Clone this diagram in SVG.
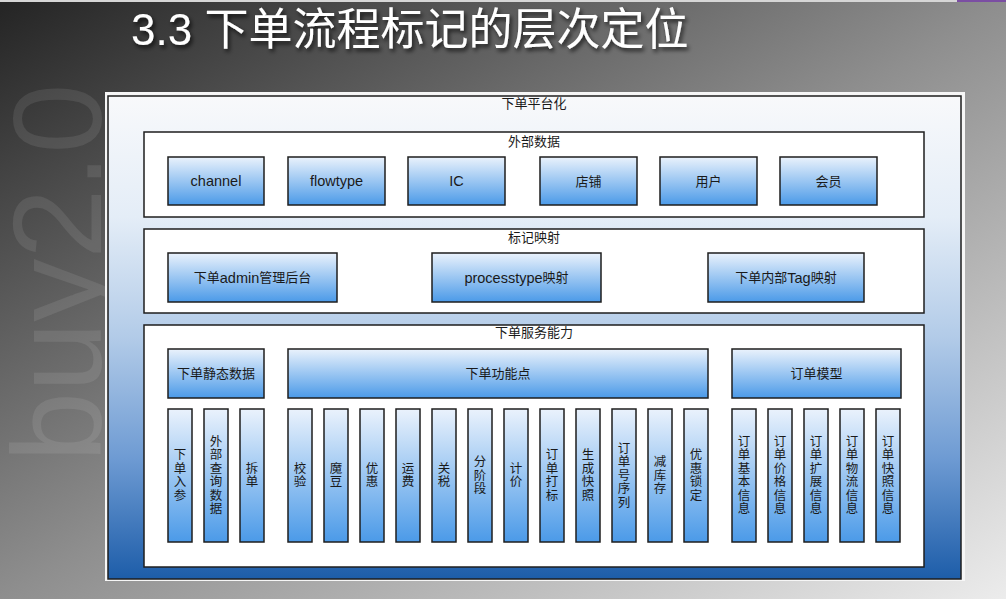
<svg xmlns="http://www.w3.org/2000/svg" width="1006" height="599" viewBox="0 0 1006 599">
<defs>
<linearGradient id="bg" x1="0" y1="0" x2="1" y2="1">
<stop offset="0" stop-color="#242424"/>
<stop offset="0.5" stop-color="#8e8e8e"/>
<stop offset="1" stop-color="#ececec"/>
</linearGradient>
<linearGradient id="outer" x1="0" y1="0" x2="0" y2="1">
<stop offset="0" stop-color="#f8f9fb"/>
<stop offset="0.25" stop-color="#e4edf7"/>
<stop offset="0.5" stop-color="#b2cbe8"/>
<stop offset="0.75" stop-color="#6e9bd3"/>
<stop offset="1" stop-color="#1d5da9"/>
</linearGradient>
<linearGradient id="box" x1="0" y1="0" x2="0" y2="1">
<stop offset="0" stop-color="#eaf2fc"/>
<stop offset="1" stop-color="#4b9ae8"/>
</linearGradient>
<filter id="tsh" x="-5%" y="-20%" width="110%" height="150%">
<feDropShadow dx="2" dy="3" stdDeviation="2" flood-color="#000" flood-opacity="0.7"/>
</filter>
</defs>
<style>
.cont{fill:#fff;stroke:#1e1e1e;stroke-width:1.5}
.bx{fill:url(#box);stroke:#1e1e1e;stroke-width:1.5}
.t{font-family:"Liberation Sans","Noto Sans CJK SC",sans-serif;font-size:13px;fill:#1a1a1a;text-anchor:middle;dominant-baseline:central}
.v{font-size:12.5px}
.lat{font-size:14.5px}
</style>
<rect x="0" y="0" width="1006" height="599" fill="url(#bg)"/>
<rect x="0" y="0" width="957" height="2" fill="#d6d6d6"/>
<rect x="957" y="0" width="49" height="2" fill="#7b4ea3"/>
<text transform="translate(101,462) rotate(-90)" font-family="Liberation Sans, sans-serif" font-size="126" fill="#ffffff" fill-opacity="0.09">buy2.0</text>
<text x="131" y="45" font-family="Liberation Sans, Noto Sans CJK SC, sans-serif" font-size="44" fill="#ffffff" filter="url(#tsh)">3.3 下单流程标记的层次定位</text>
<rect x="105" y="92" width="860" height="489" fill="#f6f6f6"/>
<g id="platform">
<rect x="108" y="96" width="853" height="483" fill="url(#outer)" stroke="#1e1e1e" stroke-width="1.5"/>
<text class="t" x="534" y="103">下单平台化</text>
</g>
<g id="external">
<rect class="cont" x="144" y="132" width="780" height="85"/>
<text class="t" x="534" y="141">外部数据</text>
</g>
<g id="n-channel"><rect class="bx" x="168" y="157" width="96" height="48"/><text class="t" x="216" y="181"><tspan class="lat">channel</tspan></text></g>
<g id="n-flowtype"><rect class="bx" x="288" y="157" width="97" height="48"/><text class="t" x="336.5" y="181"><tspan class="lat">flowtype</tspan></text></g>
<g id="n-ic"><rect class="bx" x="408" y="157" width="97" height="48"/><text class="t" x="456.5" y="181"><tspan class="lat">IC</tspan></text></g>
<g id="n-shop"><rect class="bx" x="540" y="157" width="97" height="48"/><text class="t" x="588.5" y="181">店铺</text></g>
<g id="n-user"><rect class="bx" x="660" y="157" width="97" height="48"/><text class="t" x="708.5" y="181">用户</text></g>
<g id="n-member"><rect class="bx" x="780" y="157" width="97" height="48"/><text class="t" x="828.5" y="181">会员</text></g>
<g id="mapping">
<rect class="cont" x="144" y="229" width="780" height="84"/>
<text class="t" x="534" y="237">标记映射</text>
</g>
<g id="n-admin"><rect class="bx" x="168" y="253" width="169" height="49"/><text class="t" x="252.5" y="277.5">下单<tspan class="lat">admin</tspan>管理后台</text></g>
<g id="n-processtype"><rect class="bx" x="432" y="253" width="169" height="49"/><text class="t" x="516.5" y="277.5"><tspan class="lat">processtype</tspan>映射</text></g>
<g id="n-tag"><rect class="bx" x="708" y="253" width="156" height="49"/><text class="t" x="786" y="277.5">下单内部<tspan class="lat">Tag</tspan>映射</text></g>
<g id="service">
<rect class="cont" x="144" y="325" width="780" height="242"/>
<text class="t" x="534" y="332">下单服务能力</text>
</g>
<g id="n-static"><rect class="bx" x="168" y="349" width="96" height="49"/><text class="t" x="216" y="373.5">下单静态数据</text></g>
<g id="n-func"><rect class="bx" x="288" y="349" width="420" height="49"/><text class="t" x="498" y="373.5">下单功能点</text></g>
<g id="n-model"><rect class="bx" x="732" y="349" width="169" height="49"/><text class="t" x="816.5" y="373.5">订单模型</text></g>
<g id="n-b1"><rect class="bx" x="168" y="409" width="24" height="133"/><text class="t v" x="180" y="455.25"><tspan x="180" dy="0">下</tspan><tspan x="180" dy="13.5">单</tspan><tspan x="180" dy="13.5">入</tspan><tspan x="180" dy="13.5">参</tspan></text></g>
<g id="n-b2"><rect class="bx" x="204" y="409" width="24" height="133"/><text class="t v" x="216" y="441.75"><tspan x="216" dy="0">外</tspan><tspan x="216" dy="13.5">部</tspan><tspan x="216" dy="13.5">查</tspan><tspan x="216" dy="13.5">询</tspan><tspan x="216" dy="13.5">数</tspan><tspan x="216" dy="13.5">据</tspan></text></g>
<g id="n-b3"><rect class="bx" x="240" y="409" width="24" height="133"/><text class="t v" x="252" y="468.75"><tspan x="252" dy="0">拆</tspan><tspan x="252" dy="13.5">单</tspan></text></g>
<g id="n-b4"><rect class="bx" x="288" y="409" width="24" height="133"/><text class="t v" x="300" y="468.75"><tspan x="300" dy="0">校</tspan><tspan x="300" dy="13.5">验</tspan></text></g>
<g id="n-b5"><rect class="bx" x="324" y="409" width="24" height="133"/><text class="t v" x="336" y="468.75"><tspan x="336" dy="0">魔</tspan><tspan x="336" dy="13.5">豆</tspan></text></g>
<g id="n-b6"><rect class="bx" x="360" y="409" width="24" height="133"/><text class="t v" x="372" y="468.75"><tspan x="372" dy="0">优</tspan><tspan x="372" dy="13.5">惠</tspan></text></g>
<g id="n-b7"><rect class="bx" x="396" y="409" width="24" height="133"/><text class="t v" x="408" y="468.75"><tspan x="408" dy="0">运</tspan><tspan x="408" dy="13.5">费</tspan></text></g>
<g id="n-b8"><rect class="bx" x="432" y="409" width="24" height="133"/><text class="t v" x="444" y="468.75"><tspan x="444" dy="0">关</tspan><tspan x="444" dy="13.5">税</tspan></text></g>
<g id="n-b9"><rect class="bx" x="468" y="409" width="24" height="133"/><text class="t v" x="480" y="462"><tspan x="480" dy="0">分</tspan><tspan x="480" dy="13.5">阶</tspan><tspan x="480" dy="13.5">段</tspan></text></g>
<g id="n-b10"><rect class="bx" x="504" y="409" width="24" height="133"/><text class="t v" x="516" y="468.75"><tspan x="516" dy="0">计</tspan><tspan x="516" dy="13.5">价</tspan></text></g>
<g id="n-b11"><rect class="bx" x="540" y="409" width="24" height="133"/><text class="t v" x="552" y="455.25"><tspan x="552" dy="0">订</tspan><tspan x="552" dy="13.5">单</tspan><tspan x="552" dy="13.5">打</tspan><tspan x="552" dy="13.5">标</tspan></text></g>
<g id="n-b12"><rect class="bx" x="576" y="409" width="24" height="133"/><text class="t v" x="588" y="455.25"><tspan x="588" dy="0">生</tspan><tspan x="588" dy="13.5">成</tspan><tspan x="588" dy="13.5">快</tspan><tspan x="588" dy="13.5">照</tspan></text></g>
<g id="n-b13"><rect class="bx" x="612" y="409" width="24" height="133"/><text class="t v" x="624" y="448.5"><tspan x="624" dy="0">订</tspan><tspan x="624" dy="13.5">单</tspan><tspan x="624" dy="13.5">号</tspan><tspan x="624" dy="13.5">序</tspan><tspan x="624" dy="13.5">列</tspan></text></g>
<g id="n-b14"><rect class="bx" x="648" y="409" width="24" height="133"/><text class="t v" x="660" y="462"><tspan x="660" dy="0">减</tspan><tspan x="660" dy="13.5">库</tspan><tspan x="660" dy="13.5">存</tspan></text></g>
<g id="n-b15"><rect class="bx" x="684" y="409" width="24" height="133"/><text class="t v" x="696" y="455.25"><tspan x="696" dy="0">优</tspan><tspan x="696" dy="13.5">惠</tspan><tspan x="696" dy="13.5">锁</tspan><tspan x="696" dy="13.5">定</tspan></text></g>
<g id="n-b16"><rect class="bx" x="732" y="409" width="24" height="133"/><text class="t v" x="744" y="441.75"><tspan x="744" dy="0">订</tspan><tspan x="744" dy="13.5">单</tspan><tspan x="744" dy="13.5">基</tspan><tspan x="744" dy="13.5">本</tspan><tspan x="744" dy="13.5">信</tspan><tspan x="744" dy="13.5">息</tspan></text></g>
<g id="n-b17"><rect class="bx" x="768" y="409" width="24" height="133"/><text class="t v" x="780" y="441.75"><tspan x="780" dy="0">订</tspan><tspan x="780" dy="13.5">单</tspan><tspan x="780" dy="13.5">价</tspan><tspan x="780" dy="13.5">格</tspan><tspan x="780" dy="13.5">信</tspan><tspan x="780" dy="13.5">息</tspan></text></g>
<g id="n-b18"><rect class="bx" x="804" y="409" width="24" height="133"/><text class="t v" x="816" y="441.75"><tspan x="816" dy="0">订</tspan><tspan x="816" dy="13.5">单</tspan><tspan x="816" dy="13.5">扩</tspan><tspan x="816" dy="13.5">展</tspan><tspan x="816" dy="13.5">信</tspan><tspan x="816" dy="13.5">息</tspan></text></g>
<g id="n-b19"><rect class="bx" x="840" y="409" width="24" height="133"/><text class="t v" x="852" y="441.75"><tspan x="852" dy="0">订</tspan><tspan x="852" dy="13.5">单</tspan><tspan x="852" dy="13.5">物</tspan><tspan x="852" dy="13.5">流</tspan><tspan x="852" dy="13.5">信</tspan><tspan x="852" dy="13.5">息</tspan></text></g>
<g id="n-b20"><rect class="bx" x="876" y="409" width="24" height="133"/><text class="t v" x="888" y="441.75"><tspan x="888" dy="0">订</tspan><tspan x="888" dy="13.5">单</tspan><tspan x="888" dy="13.5">快</tspan><tspan x="888" dy="13.5">照</tspan><tspan x="888" dy="13.5">信</tspan><tspan x="888" dy="13.5">息</tspan></text></g>
<g id="connectors"></g>
</svg>
